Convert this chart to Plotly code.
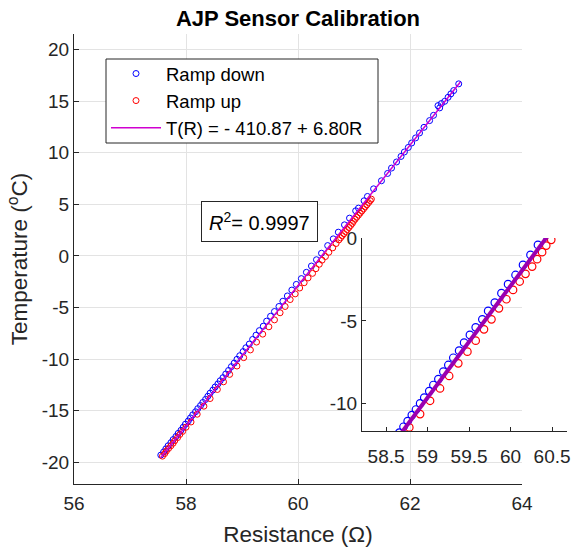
import plotly.graph_objects as go

# ---------------- data ----------------
down_R = [57.55, 57.60, 57.64, 57.68, 57.73, 57.77, 57.82, 57.86, 57.91, 57.95, 57.99, 58.04, 58.08,
          58.12, 58.17, 58.21, 58.26, 58.30, 58.35, 58.39, 58.43, 58.48, 58.52, 58.57, 58.61, 58.66,
          58.71, 58.76, 58.81, 58.86, 58.91, 58.96, 59.02, 59.07, 59.13, 59.19, 59.25, 59.31, 59.38,
          59.44, 59.51, 59.58, 59.66, 59.73, 59.81, 59.89, 59.97, 60.06, 60.15, 60.24, 60.33,
          60.42, 60.53, 60.63, 60.72, 60.83, 60.92, 61.03, 61.08, 61.18, 61.24, 61.35,
          61.49, 61.60, 61.67, 61.76, 61.84, 61.90, 61.97, 62.03, 62.10, 62.17, 62.25, 62.35, 62.42,
          62.53, 62.50, 62.56, 62.62, 62.68, 62.73, 62.78, 62.87]
down_T = [-19.3, -19.0, -18.7, -18.4, -18.1, -17.8, -17.5, -17.2, -16.9, -16.6, -16.3, -16.0, -15.7,
          -15.4, -15.1, -14.8, -14.5, -14.2, -13.9, -13.6, -13.3, -13.0, -12.7, -12.4, -12.1, -11.8,
          -11.44, -11.10, -10.73, -10.39, -10.02, -9.67, -9.27, -8.90, -8.54, -8.09, -7.68, -7.24, -6.81,
          -6.32, -5.85, -5.39, -4.90, -4.39, -3.88, -3.31, -2.76, -2.20, -1.59, -0.98, -0.37,
          0.26, 1.00, 1.65, 2.30, 3.01, 3.66, 4.37, 4.63, 5.34, 5.76, 6.50,
          7.28, 7.99, 8.51, 9.10, 9.64, 10.07, 10.51, 10.94, 11.43, 11.91, 12.46, 13.11, 13.62,
          14.34, 14.56, 14.76, 14.98, 15.37, 15.70, 16.02, 16.67]

up_R = [57.58, 57.62, 57.65, 57.69, 57.73, 57.77, 57.80, 57.85, 57.89, 57.94, 58.00,
        58.09, 58.20, 58.32, 58.43, 58.56, 58.67,
        58.78, 58.91, 59.03, 59.15, 59.26, 59.37, 59.48, 59.58, 59.68, 59.77, 59.86, 59.95,
        60.03, 60.11, 60.18, 60.26, 60.32, 60.38, 60.43, 60.49,
        60.55, 60.62, 60.68, 60.73,
        60.76, 60.79, 60.82, 60.85, 60.88, 60.91, 60.94, 60.97, 60.99, 61.02, 61.05, 61.08,
        61.11, 61.14, 61.17, 61.20, 61.23, 61.26, 61.29, 61.31]
up_T = [-19.4, -19.15, -18.9, -18.65, -18.4, -18.15, -17.9, -17.6, -17.3, -17.0, -16.6,
        -16.09, -15.34, -14.56, -13.82, -12.94, -12.2,
        -11.48, -10.67, -9.86, -9.11, -8.35, -7.58, -6.87, -6.20, -5.51, -4.90, -4.23, -3.68,
        -3.11, -2.60, -2.13, -1.69, -1.24, -0.81, -0.41, -0.06,
        0.35, 0.78, 1.20, 1.55,
        1.75, 1.95, 2.15, 2.35, 2.55, 2.75, 2.95, 3.15, 3.35, 3.55, 3.75, 3.95,
        4.15, 4.35, 4.55, 4.75, 4.95, 5.15, 5.35, 5.5]

fit_intercept = -410.87
fit_slope = 6.80
fit_R = [57.55, 62.90]
fit_T = [fit_intercept + fit_slope * r for r in fit_R]
r_squared = 0.9997

main_xticks = [56, 58, 60, 62, 64]
main_yticks = [-20, -15, -10, -5, 0, 5, 10, 15, 20]
main_yticktext = ["-20", "-15", "-10", "-5", "0", "5", "10", "15", "20"]
inset_xticks = [58.5, 59, 59.5, 60, 60.5]
inset_xticktext = ["58.5", "59", "59.5", "60", "60.5"]
inset_yticks = [-10, -5, 0]
inset_yticktext = ["-10", "-5", "0"]

# ---------------- figure ----------------
FONT = "Liberation Sans, Arial, Helvetica, sans-serif"
AX = "#262626"

fig = go.Figure()

fig.add_trace(go.Scatter(x=down_R, y=down_T, mode="markers", name="Ramp down",
                         marker=dict(symbol="circle-open", size=6, color="#0000ff", line=dict(width=1))))
fig.add_trace(go.Scatter(x=up_R, y=up_T, mode="markers", name="Ramp up",
                         marker=dict(symbol="circle-open", size=6, color="#ff0000", line=dict(width=1))))
fig.add_trace(go.Scatter(x=fit_R, y=fit_T, mode="lines",
                         name="T(R) = - 410.87 + 6.80R",
                         line=dict(color="#d000d0", width=1.5)))

# inset
fig.add_trace(go.Scatter(x=down_R, y=down_T, mode="markers", showlegend=False,
                         xaxis="x2", yaxis="y2",
                         marker=dict(symbol="circle-open", size=7.5, color="#0000ff", line=dict(width=1.2))))
fig.add_trace(go.Scatter(x=up_R, y=up_T, mode="markers", showlegend=False,
                         xaxis="x2", yaxis="y2",
                         marker=dict(symbol="circle-open", size=7.5, color="#ff0000", line=dict(width=1.2))))
fig.add_trace(go.Scatter(x=fit_R, y=fit_T, mode="lines", showlegend=False,
                         xaxis="x2", yaxis="y2",
                         line=dict(color="#9a00b0", width=4)))

W, H = 572, 547
L, R_, T_, B = 74, 5, 34, 63
pw = W - L - R_
ph = H - T_ - B

def px(xp):
    return (xp - L) / pw

def py(yp):
    return (H - B - yp) / ph

fig.update_layout(
    width=W, height=H,
    margin=dict(l=L, r=R_, t=T_, b=B, autoexpand=False),
    paper_bgcolor="white", plot_bgcolor="rgba(0,0,0,0)",
    font=dict(family=FONT, size=19, color=AX),
    title=dict(text="<b>AJP Sensor Calibration</b>", xref="container", x=298 / W, xanchor="center",
               yref="container", y=1 - 18 / H, yanchor="middle",
               font=dict(size=22, color="#000000", family=FONT)),
    xaxis=dict(domain=[0, px(522)], range=[56, 64], tickvals=main_xticks,
               showline=True, linecolor=AX, linewidth=1, ticks="inside", ticklen=5,
               tickcolor=AX, showgrid=True, gridcolor="#e3e3e3", zeroline=False,
               tickfont=dict(size=19, color=AX), ticklabelstandoff=2, automargin=False,
               title=dict(text="Resistance (Ω)", font=dict(size=22.5, color=AX), standoff=16),
               anchor="y"),
    yaxis=dict(domain=[0, 1], range=[-22.1, 21.5], tickvals=main_yticks, ticktext=main_yticktext,
               showline=True, linecolor=AX, linewidth=1, ticks="inside", ticklen=5,
               tickcolor=AX, showgrid=True, gridcolor="#e3e3e3", zeroline=False,
               tickfont=dict(size=19, color=AX), automargin=False,
               title=dict(text="Temperature (<sup>o</sup>C)", font=dict(size=22.5, color=AX), standoff=7),
               anchor="x"),
    xaxis2=dict(domain=[px(362), 1.0], range=[58.21, 60.68], tickvals=inset_xticks,
                ticktext=inset_xticktext, showline=True, linecolor=AX, linewidth=1,
                ticks="inside", ticklen=4, tickcolor=AX, showgrid=False, zeroline=False,
                tickfont=dict(size=19, color=AX), ticklabelstandoff=8, automargin=False,
                anchor="y2"),
    yaxis2=dict(domain=[py(431), py(238)], range=[-11.7, 0.05], tickvals=inset_yticks,
                ticktext=inset_yticktext,
                showline=True, linecolor=AX, linewidth=1, ticks="inside", ticklen=4,
                tickcolor=AX, showgrid=False, zeroline=False,
                tickfont=dict(size=19, color=AX), automargin=False, anchor="x2"),
    legend=dict(x=px(106), y=py(55), xanchor="left", yanchor="top",
                bgcolor="rgba(0,0,0,0)", borderwidth=0,
                font=dict(size=18.5, color="#000000", family=FONT),
                itemwidth=50, tracegroupgap=0),
    showlegend=True,
)

# legend frame (box behind the legend entries)
fig.add_shape(type="rect", xref="paper", yref="paper",
              x0=px(106), x1=px(378), y0=py(143), y1=py(59),
              fillcolor="white", line=dict(color=AX, width=1), layer="above")

fig.add_annotation(xref="paper", yref="paper", x=px(259), y=py(221),
                   text="<i>R</i><sup>2</sup>= " + f"{r_squared:.4f}",
                   showarrow=False, font=dict(size=20, color="#000000", family=FONT),
                   bgcolor="white", bordercolor=AX, borderwidth=1, borderpad=7,
                   xanchor="center", yanchor="middle")

fig.write_html("out.html")
